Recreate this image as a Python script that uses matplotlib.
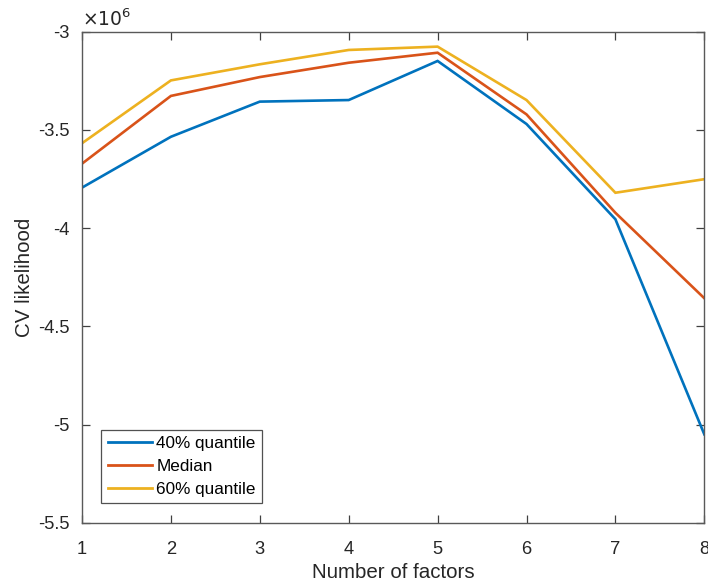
import matplotlib
matplotlib.use("Agg")
import matplotlib.pyplot as plt
import numpy as np

plt.rcParams['font.family'] = ['Liberation Sans', 'DejaVu Sans']

factors = [1, 2, 3, 4, 5, 6, 7, 8]
q40 = [-3.794e6, -3.535e6, -3.356e6, -3.348e6, -3.149e6, -3.470e6, -3.955e6, -5.050e6]
median = [-3.672e6, -3.327e6, -3.231e6, -3.158e6, -3.107e6, -3.421e6, -3.922e6, -4.357e6]
q60 = [-3.568e6, -3.248e6, -3.166e6, -3.093e6, -3.076e6, -3.348e6, -3.820e6, -3.751e6]
labels = ['40% quantile', 'Median', '60% quantile']
colors = ['#0072BD', '#D95319', '#EDB120']
yticks = [-5.5e6, -5e6, -4.5e6, -4e6, -3.5e6, -3e6]
ytick_labels = ['-5.5', '-5', '-4.5', '-4', '-3.5', '-3']

fig = plt.figure(figsize=(7.08, 5.88), dpi=100)
ax = fig.add_axes([82/708, 1 - 522.7/588, (704.3 - 82)/708, (522.7 - 31.7)/588])

for s, lab, c in zip([q40, median, q60], labels, colors):
    ax.plot(factors, s, color=c, lw=1.9, label=lab, solid_joinstyle='miter')

ax.set_xlim(1, 8)
ax.set_ylim(-5.5e6, -3e6)
ax.set_xticks(factors)
ax.set_xticklabels([str(f) for f in factors])
ax.set_yticks(yticks)
ax.set_yticklabels(ytick_labels)

axcol = '#262626'
for sp in ax.spines.values():
    sp.set_color('#595959')
    sp.set_linewidth(1.0)
ax.tick_params(direction='in', top=True, right=True, length=6, width=0.9,
               colors='#404040', labelcolor=axcol, labelsize=13.2)
ax.tick_params(axis='y', pad=9)
ax.tick_params(axis='x', pad=13)

ax.set_xlabel('Number of factors', fontsize=14.8, color=axcol, labelpad=4)
ax.set_ylabel('CV likelihood', fontsize=14.8, color=axcol, labelpad=3)
ax.text(0.0, 1.004, r'$\times10^{6}$', transform=ax.transAxes, fontsize=13.5,
        color=axcol, ha='left', va='bottom', math_fontfamily='dejavusans')

leg = ax.legend(loc='lower left', bbox_to_anchor=(0.031, 0.0395), borderaxespad=0,
                fontsize=12.3, frameon=True, fancybox=False, edgecolor='#262626',
                handlelength=2.6, borderpad=0.38, labelspacing=0.45, handletextpad=0.25)
leg.get_frame().set_linewidth(0.9)
for ln in leg.get_lines():
    ln.set_linewidth(2.0)

fig.savefig('out.png', dpi=100)
